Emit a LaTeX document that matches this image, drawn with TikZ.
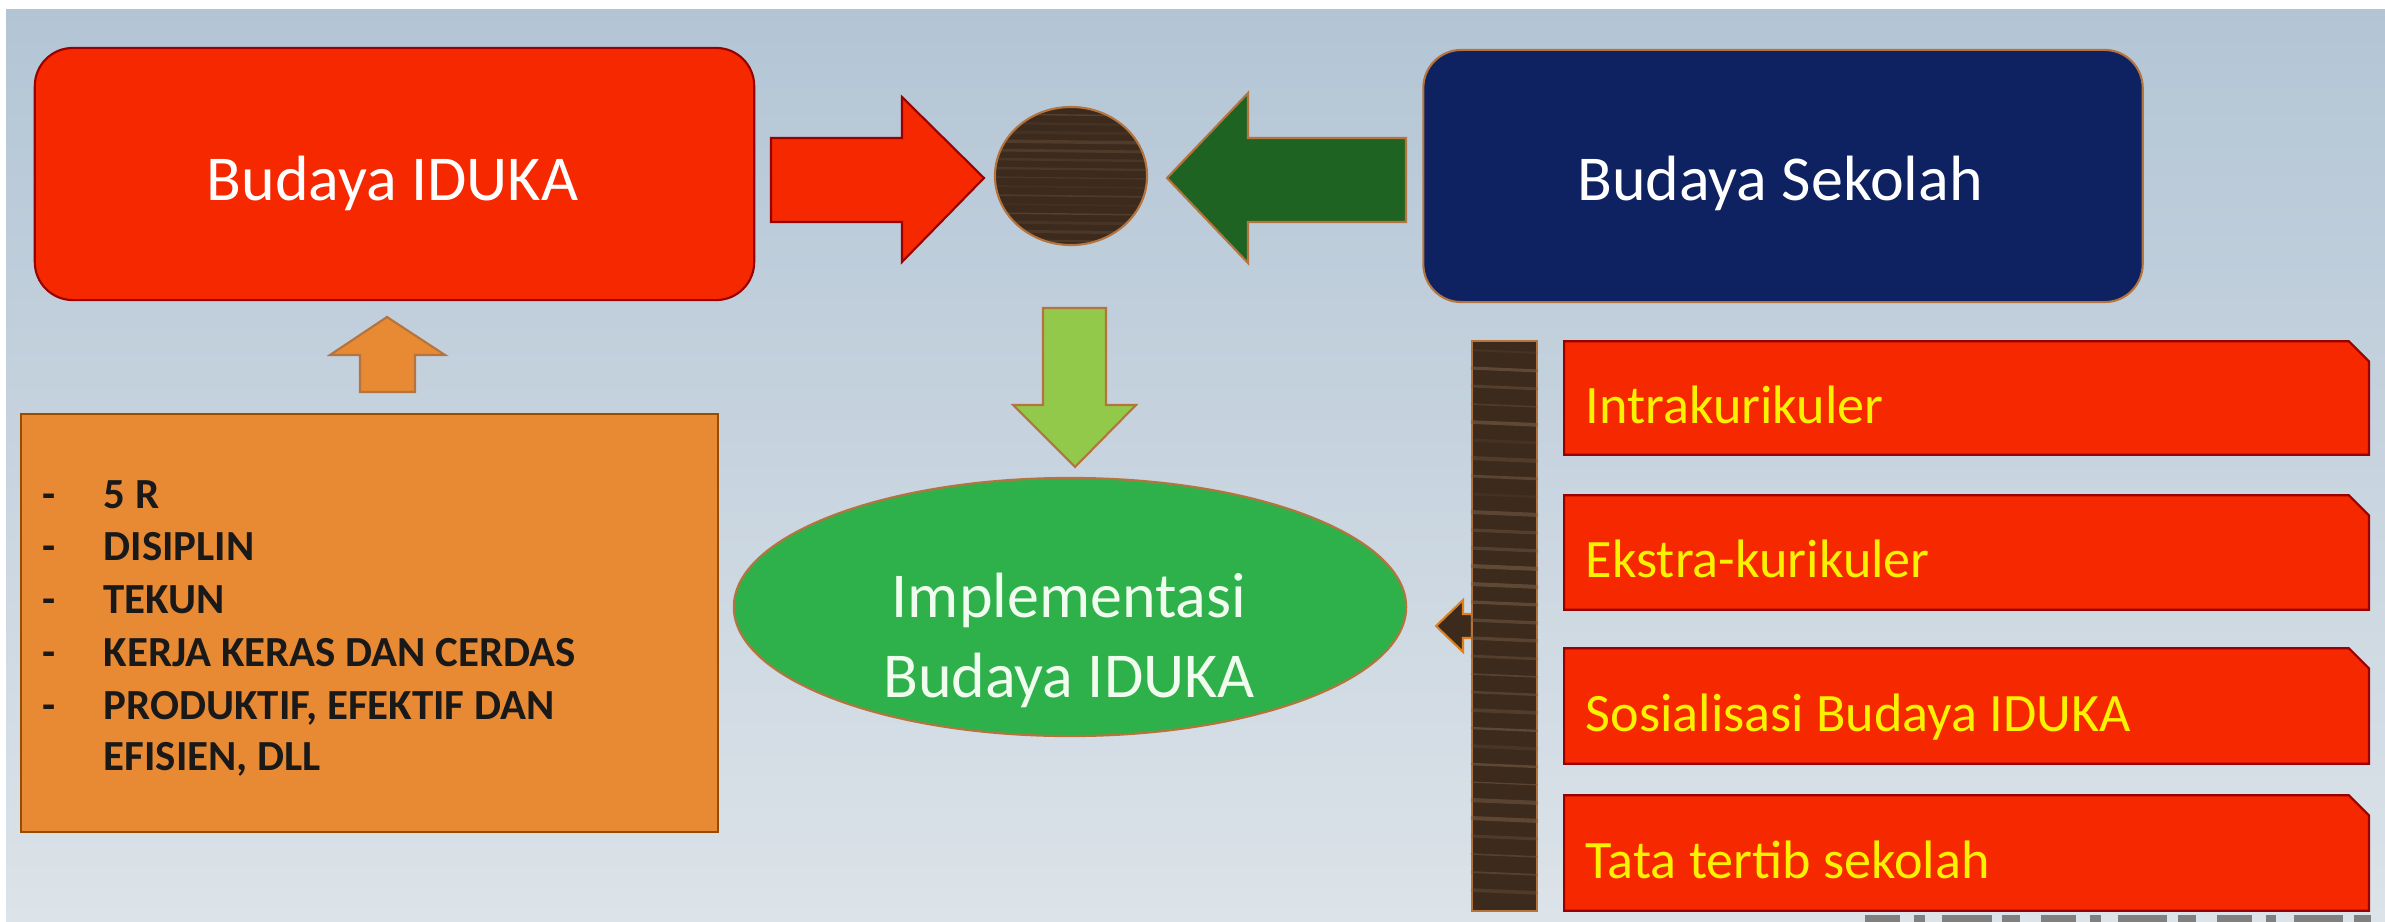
\documentclass[tikz,border=0pt]{standalone}
\usepackage{fontspec}
\setmainfont{Carlito}
\usetikzlibrary{shapes.geometric,calc}
\definecolor{bgtop}{HTML}{B3C5D5}
\definecolor{bgbot}{HTML}{DCE3E9}
\definecolor{redfill}{HTML}{F52800}
\definecolor{navy}{HTML}{0E2160}
\definecolor{dgreen}{HTML}{1F6322}
\definecolor{lgreen}{HTML}{93C94B}
\definecolor{egreen}{HTML}{2EB14B}
\definecolor{orangefill}{HTML}{E88A33}
\definecolor{wood}{HTML}{3C2A1D}
\definecolor{woodlight}{HTML}{7E6249}
\definecolor{edgecol}{HTML}{B5743E}
\definecolor{listyellow}{HTML}{FAF200}
\definecolor{mint}{HTML}{F0FCEE}
\begin{document}
\begin{tikzpicture}[x=0.01cm,y=-0.01cm,
  edgeline/.style={draw=edgecol,line width=0.6pt},
  topbox/.style={edgeline,rounded corners=0.38cm,inner sep=0,minimum width=7.19cm,minimum height=2.52cm},
  titletext/.style={anchor=base,text=white,inner sep=0,font=\fontsize{18.2pt}{22pt}\selectfont},
  impltext/.style={anchor=base,text=mint,inner sep=0,font=\fontsize{18.2pt}{22pt}\selectfont},
  listtext/.style={anchor=base west,text=listyellow,inner sep=0,font=\fontsize{15.4pt}{18pt}\selectfont},
  bultext/.style={anchor=base west,text=black!90,inner sep=0,font=\bfseries\fontsize{12.2pt}{15pt}\selectfont},
  listbox/.style={draw=none,inner sep=0,minimum width=8.03cm},
  redpath/.style={edgeline,draw=red!60!black,fill=redfill}
]
\useasboundingbox (0,0) rectangle (2385,921);
\fill[white] (0,0) rectangle (2385,921);
\shade[top color=bgtop,bottom color=bgbot] (6,9) rectangle (2385,921);

% top boxes
\node[topbox,fill=redfill,draw=red!60!black] (iduka) at (394.5,174) {};
\node[titletext] (idukaT) at ($(iduka.center)+(-2,26)$) {Budaya IDUKA};
\node[topbox,fill=navy] (sekolah) at (1783,176) {};
\node[titletext] (sekolahT) at ($(sekolah.center)+(-3,24)$) {Budaya Sekolah};

% hub circle
\node[ellipse,edgeline,fill=wood,inner sep=0,minimum width=1.52cm,minimum height=1.38cm] (hub) at (1071,176) {};
\begin{scope}
\clip (hub.center) ellipse [x radius=0.75cm,y radius=0.68cm];
\pgfmathsetseed{7}
\foreach \yy in {114,123,...,245} {
  \pgfmathsetmacro{\op}{0.1+0.35*rnd}
  \pgfmathsetmacro{\lw}{0.3+0.7*rnd}
  \draw[woodlight,opacity=\op,line width=\lw pt] (990,\yy) -- (1152,\yy+2);
}
\end{scope}

% block arrows into hub
\draw[edgeline,draw=red!60!black,fill=redfill] (771,138) -- (902,138) -- (902,97) -- (984,178) -- (902,262) -- (902,222) -- (771,222) -- cycle;
\draw[edgeline,fill=dgreen] (1406,138) -- (1248,138) -- (1248,93) -- (1167,178) -- (1248,263) -- (1248,222) -- (1406,222) -- cycle;
% down arrow to implementation
\draw[edgeline,fill=lgreen] (1043,308) -- (1106,308) -- (1106,405) -- (1136,405) -- (1075,467) -- (1013,405) -- (1043,405) -- cycle;

% implementation ellipse
\node[ellipse,edgeline,fill=egreen,inner sep=0,minimum width=6.72cm,minimum height=2.58cm] (impl) at (1070,607) {};
\node[impltext] (implT1) at (1069,617) {Implementasi};
\node[impltext] (implT2) at (1069,697) {Budaya IDUKA};

% orange list box and up arrow
\draw[edgeline,fill=orangefill] (360,392) -- (360,355) -- (330,355) -- (387,317) -- (445,355) -- (415,355) -- (415,392) -- cycle;
\node[draw=orange!60!black,line width=0.6pt,fill=orangefill,inner sep=0,minimum width=6.97cm,minimum height=4.18cm] (nilai) at (369.5,623) {};
\foreach \t/\yy/\n in {5 R/508/1,DISIPLIN/560/2,TEKUN/613/3,KERJA KERAS DAN CERDAS/666/4,{PRODUKTIF, EFEKTIF DAN}/719/5} {
  \node[bultext] (dash\n) at (42,\yy) {-};
  \node[bultext] (item\n) at (103,\yy) {\t};
}
\node[bultext] (item6) at (103,770) {EFISIEN, DLL};

% wooden bar with arrow
\draw[line width=0.6pt,draw=orange!50!brown,fill=wood] (1472,614) -- (1463,614) -- (1463,600) -- (1436,626) -- (1463,652) -- (1463,638) -- (1472,638) -- cycle;
\node[draw=edgecol,line width=0.6pt,fill=wood,inner sep=0,minimum width=0.65cm,minimum height=5.70cm] (bar) at (1504.5,626) {};
\begin{scope}
\clip (bar.south west) rectangle (bar.north east);
\pgfmathsetseed{3}
\foreach \yy in {350,368,...,905} {
  \pgfmathsetmacro{\op}{0.12+0.45*rnd}
  \pgfmathsetmacro{\lw}{0.3+0.9*rnd}
  \draw[woodlight,opacity=\op,line width=\lw pt] (1470,\yy) -- (1540,\yy+3);
}
\end{scope}

% red list boxes
\foreach \n/\cy/\h/\t in {1/398/1.12/Intrakurikuler,2/552.5/1.13/Ekstra-kurikuler,3/706/1.14/Sosialisasi Budaya IDUKA,4/853/1.14/Tata tertib sekolah} {
  \node[listbox,minimum height=\h cm] (r\n) at (1966.5,\cy) {};
  \draw[redpath] (r\n.south west) -- (r\n.north west) -- ($(r\n.north east)+(-20,0)$) -- ($(r\n.north east)+(0,20)$) -- (r\n.south east) -- cycle;
  \node[listtext] (rt\n) at ($(r\n.west)+(21,25)$) {\t};
}

% cut-off strip at the bottom edge
\draw[black!50,line width=0.07cm,dash pattern=on 10pt off 4pt on 3pt off 5pt on 14pt off 3pt on 5pt off 6pt] (1865,918) -- (2385,918);
\end{tikzpicture}
\end{document}
